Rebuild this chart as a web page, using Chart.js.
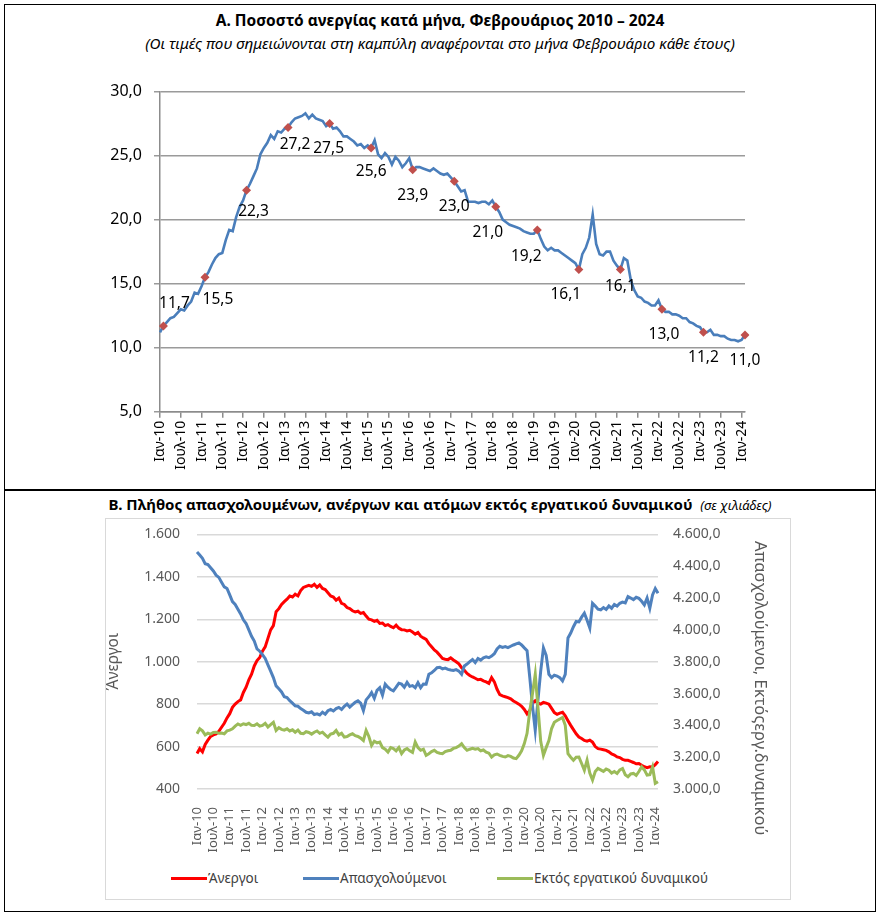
<!DOCTYPE html>
<html>
<head>
<meta charset="utf-8">
<script src="https://cdn.jsdelivr.net/npm/chart.js@4"></script>
<style>
  body { margin: 0; width: 880px; height: 922px; background: #fff; position: relative; font-family: "Noto Sans", sans-serif; }
  .abs { position: absolute; }
  .frame { left: 4px; top: 4px; width: 872px; height: 908px; border: 1.5px solid #000; box-sizing: border-box; }
  .divider { left: 4px; top: 489px; width: 872px; height: 1.5px; background: #000; }
  .titleA { top: 9px; left: 0; width: 880px; text-align: center; font-weight: bold; font-size: 15.5px; color: #000; }
  .subA { top: 33px; left: 0; width: 880px; text-align: center; font-style: italic; font-size: 15.2px; color: #000; }
  .titleB { top: 494px; left: 0; width: 880px; text-align: center; font-weight: bold; font-size: 15px; color: #000; }
  .titleB i { font-weight: normal; font-size: 13px; }
  .boxB { left: 105px; top: 518px; width: 686px; height: 382px; border: 1px solid #d9d9d9; box-sizing: border-box; }
  .rightTitle { left: 750px; top: 541px; writing-mode: vertical-rl; font-size: 16.5px; color: #595959; white-space: nowrap; }
  .leg { top: 869px; font-size: 13.5px; color: #404040; white-space: nowrap; }
  .leg span { display: inline-block; width: 36px; height: 3px; vertical-align: middle; margin-right: 1px; position: relative; top: -1px; }
</style>
</head>
<body>
<div class="abs frame"></div>
<div class="abs divider"></div>
<div class="abs titleA">Α. Ποσοστό ανεργίας κατά μήνα, Φεβρουάριος 2010 – 2024</div>
<div class="abs subA">(Οι τιμές που σημειώνονται στη καμπύλη αναφέρονται στο μήνα Φεβρουάριο κάθε έτους)</div>
<canvas id="chartA" class="abs" width="760" height="410" style="left:40px;top:70px;"></canvas>

<div class="abs titleB">Β. Πλήθος απασχολουμένων, ανέργων και ατόμων εκτός εργατικού δυναμικού &nbsp;<i>(σε χιλιάδες)</i></div>
<div class="abs boxB"></div>
<canvas id="chartB" class="abs" width="700" height="356" style="left:100px;top:509px;"></canvas>
<div class="abs rightTitle">Απασχολούμενοι, Εκτόςεργ.δυναμικού</div>
<div class="abs leg" style="left:171px;"><span style="background:#FF0000"></span>Άνεργοι</div>
<div class="abs leg" style="left:303px;"><span style="background:#4F81BD"></span>Απασχολούμενοι</div>
<div class="abs leg" style="left:497px;"><span style="background:#9BBB59"></span>Εκτός εργατικού δυναμικού</div>

<script>
// months Jan-10 .. Feb-24
const monthNames = ['Ιαν', 'Φεβ', 'Μαρ', 'Απρ', 'Μαΐ', 'Ιουν', 'Ιουλ', 'Αυγ', 'Σεπ', 'Οκτ', 'Νοε', 'Δεκ'];
const years = [10, 11, 12, 13, 14, 15, 16, 17, 18, 19, 20, 21, 22, 23, 24];

// unemployment rate %, monthly
const rate = [
  11.2, 11.7, 12.0, 12.3, 12.4, 12.7, 13.0, 12.9, 13.3, 13.6, 14.3, 14.2,
  14.8, 15.5, 15.9, 16.5, 17.0, 17.3, 17.4, 18.4, 19.2, 19.1, 20.2, 21.0,
  21.5, 22.3, 22.8, 23.4, 24.0, 25.1, 25.6, 26.0, 26.6, 26.3, 26.9, 26.8,
  27.1, 27.2, 27.6, 27.9, 28.0, 28.1, 28.3, 27.9, 28.2, 27.9, 27.8, 27.7,
  27.3, 27.5, 27.1, 27.2, 26.9, 26.5, 26.5, 26.3, 26.1, 25.8, 25.9, 25.6,
  25.8, 25.6, 26.2, 25.1, 24.8, 25.2, 24.9, 24.3, 24.9, 24.6, 24.1, 24.4,
  24.8, 23.9, 24.1, 24.1, 24.0, 23.9, 23.8, 24.0, 23.8, 23.6, 23.5, 23.6,
  23.3, 23.0, 22.6, 22.2, 22.3, 21.4, 21.4, 21.4, 21.3, 21.4, 21.4, 21.2,
  21.5, 21.0, 20.6, 20.0, 19.8, 19.6, 19.5, 19.4, 19.3, 19.1, 19.0, 18.9,
  18.9, 19.2, 18.5, 17.9, 17.6, 17.8, 17.6, 17.6, 17.4, 17.2, 17.0, 16.8,
  16.6, 16.1, 17.3, 17.8, 18.6, 20.4, 18.1, 17.3, 17.2, 17.5, 17.5, 16.8,
  16.4, 16.1, 17.0, 16.8, 15.3, 14.5, 14.0, 13.9, 13.6, 13.5, 13.3, 13.3,
  13.7, 13.0, 12.8, 12.8, 12.6, 12.6, 12.5, 12.3, 12.3, 12.0, 11.9, 11.7,
  11.6, 11.2, 11.2, 11.4, 11.0, 11.0, 10.9, 10.9, 10.7, 10.6, 10.6, 10.5,
  10.6, 11.0
];

// February values marked on the curve
const febRate = [11.7, 15.5, 22.3, 27.2, 27.5, 25.6, 23.9, 23.0, 21.0, 19.2, 16.1, 16.1, 13.0, 11.2, 11.0];

// thousands
const unemployed = [
  567, 590, 575, 610, 630, 648, 655, 660, 672, 691, 710, 735,
  755, 785, 800, 812, 820, 855, 880, 915, 941, 980, 1005, 1020,
  1050, 1070, 1110, 1150, 1170, 1236, 1250, 1270, 1283, 1295, 1310, 1305,
  1318, 1310, 1335, 1350, 1355, 1360, 1355, 1365, 1350, 1362, 1345, 1340,
  1325, 1310, 1305, 1290, 1300, 1275, 1270, 1255, 1250, 1240, 1235, 1238,
  1228, 1232, 1215, 1200, 1197, 1190, 1195, 1180, 1182, 1170, 1175, 1166,
  1160, 1172, 1158, 1151, 1150, 1145, 1148, 1140, 1130, 1138, 1120, 1112,
  1105, 1085, 1070, 1055, 1045, 1030, 1015, 1012, 1010, 1018, 1008, 1000,
  990, 972, 960, 945, 935, 928, 922, 915, 917, 910, 905, 898,
  925, 905, 870, 845, 839, 835, 831, 825, 815, 808, 800, 790,
  775, 754, 770, 805, 816, 805, 800, 808, 805, 800, 780, 760,
  752, 758, 762, 745, 722, 700, 680, 660, 645, 638, 629, 625,
  630, 621, 600, 590, 588, 585, 582, 575, 565, 560, 551, 548,
  540, 535, 535, 530, 525, 519, 520, 512, 505, 501, 505, 504,
  515, 530
];

const employed = [
  4489, 4470, 4450, 4416, 4410, 4390, 4370, 4344, 4330, 4300, 4270, 4260,
  4220, 4178, 4160, 4130, 4100, 4063, 4040, 4000, 3960, 3930, 3880, 3866,
  3845, 3820, 3780, 3741, 3700, 3648, 3630, 3610, 3580, 3575, 3555, 3540,
  3523, 3520, 3505, 3495, 3482, 3478, 3485, 3468, 3472, 3465, 3482, 3470,
  3492, 3500, 3490, 3505, 3513, 3500, 3520, 3534, 3515, 3530, 3545, 3554,
  3540, 3492, 3560, 3580, 3606, 3570, 3620, 3637, 3590, 3659, 3640, 3625,
  3617, 3640, 3665, 3659, 3640, 3670, 3645, 3650, 3637, 3668, 3637, 3660,
  3659, 3721, 3730, 3745, 3762, 3765, 3755, 3760, 3752, 3748, 3745, 3750,
  3741, 3721, 3773, 3785, 3800, 3814, 3795, 3820, 3810, 3824, 3830, 3825,
  3835, 3850, 3880, 3897, 3890, 3895, 3888, 3897, 3905, 3912, 3918, 3905,
  3887, 3870, 3700, 3520, 3368, 3560, 3741, 3887, 3840, 3721, 3700, 3715,
  3710, 3700, 3679, 3720, 3949, 3980, 4020, 4053, 4050, 4080, 4105, 4060,
  4011, 4167, 4150, 4130, 4126, 4140, 4128, 4150, 4136, 4160, 4150, 4167,
  4175, 4170, 4209, 4200, 4190, 4205, 4198, 4180, 4157, 4200, 4136, 4220,
  4260, 4230
];

const inactive = [
  3347, 3378, 3365, 3340, 3351, 3345, 3355, 3357, 3350, 3352, 3347, 3365,
  3370, 3378, 3395, 3409, 3400, 3410, 3405, 3413, 3400, 3399, 3410, 3395,
  3400, 3413, 3390, 3405, 3419, 3368, 3385, 3375, 3370, 3378, 3365, 3372,
  3357, 3370, 3350, 3347, 3360, 3355, 3345, 3357, 3365, 3350, 3357, 3340,
  3326, 3345, 3350, 3368, 3340, 3350, 3326, 3330, 3340, 3347, 3335, 3330,
  3320, 3305, 3368, 3330, 3274, 3300, 3290, 3295, 3260, 3250, 3232, 3260,
  3254, 3240, 3260, 3222, 3245, 3254, 3240, 3230, 3295, 3260, 3243, 3250,
  3212, 3222, 3235, 3243, 3230, 3225, 3222, 3235, 3240, 3243, 3255, 3260,
  3270, 3285, 3260, 3243, 3250, 3255, 3250, 3254, 3240, 3245, 3232, 3225,
  3201, 3215, 3220, 3212, 3205, 3201, 3210, 3205, 3195, 3191, 3212, 3240,
  3285, 3350, 3492, 3600, 3721, 3513, 3300, 3212, 3260, 3305, 3380, 3419,
  3430, 3440, 3450, 3400, 3222, 3200, 3181, 3200, 3201, 3160, 3118, 3181,
  3100, 3056, 3110, 3129, 3120, 3110, 3125, 3118, 3100, 3110, 3098, 3120,
  3129, 3090, 3077, 3095, 3098, 3085, 3110, 3139, 3120, 3087, 3090, 3139,
  3036, 3046
];

const categories = [];
years.forEach(y => monthNames.forEach(m => categories.push(m + '-' + y)));
categories.length = rate.length;

// Feb markers: index 1, 13, 25, ...
const febMarks = categories.map((c, i) => (i % 12 === 1 ? febRate[(i - 1) / 12] : null));

// label offsets for the February values (dx, dy from the marker)
const febLabelOffsets = [[11, -22], [13, 22], [7, 21], [7, 17], [-1, 25], [0, 24], [0, 26], [0, 25],
  [-8, 26], [-11, 27], [-13, 25], [0, 17], [2, 25], [0, 25], [0, 26]];

function fmtDec(v) { return v.toFixed(1).replace('.', ','); }
function fmtThousands(v, dec) {
  let s = dec ? v.toFixed(dec) : String(Math.round(v));
  let parts = s.split('.');
  parts[0] = parts[0].replace(/\B(?=(\d{3})+(?!\d))/g, '.');
  return parts.join(',');
}
function sixMonthLabel(val, i) {
  return i % 6 === 0 ? categories[i] : '';
}

Chart.defaults.font.family = '"Noto Sans", sans-serif';

const febLabels = {
  id: 'febLabels',
  afterDatasetsDraw(chart) {
    const ds = chart.data.datasets[1];
    const meta = chart.getDatasetMeta(1);
    const ctx = chart.ctx;
    ctx.save();
    ctx.font = '15.5px "Noto Sans"';
    ctx.fillStyle = '#000';
    ctx.textAlign = 'center';
    ctx.textBaseline = 'middle';
    let k = 0;
    meta.data.forEach((pt, i) => {
      const v = ds.data[i];
      if (v == null) return;
      const off = febLabelOffsets[k++];
      ctx.fillText(fmtDec(v), pt.x + off[0], pt.y + off[1]);
    });
    ctx.restore();
  }
};

new Chart(document.getElementById('chartA'), {
  type: 'line',
  data: {
    labels: categories,
    datasets: [{
      data: rate,
      borderColor: '#4A7EBB',
      borderWidth: 2.6,
      pointRadius: 0,
      tension: 0,
      order: 1
    },
    {
      data: febMarks,
      showLine: false,
      pointStyle: 'rectRot',
      pointRadius: 4.5,
      backgroundColor: '#C0504D',
      borderColor: '#C0504D',
      borderWidth: 0,
      order: 0
    }]
  },
  options: {
    responsive: false,
    animation: false,
    layout: { padding: { top: 0, right: 55, left: 0, bottom: 0 } },
    plugins: { legend: { display: false }, tooltip: { enabled: false } },
    scales: {
      x: {
        afterFit(scale) { scale.height = 68.3; },
        grid: {
          drawOnChartArea: false,
          tickLength: 6,
          color: ctx => (ctx.index % 6 === 0 ? '#8c8c8c' : 'rgba(0,0,0,0)'),
          lineWidth: 1.5
        },
        border: { color: '#8c8c8c', width: 1.5 },
        ticks: {
          autoSkip: false,
          maxRotation: 90,
          minRotation: 90,
          padding: 3,
          color: '#000',
          font: { size: 14 },
          callback: sixMonthLabel
        }
      },
      y: {
        min: 5,
        max: 30,
        afterFit(scale) { scale.width = 120; },
        grid: { color: '#9a9a9a', lineWidth: 1.5, tickLength: 6 },
        border: { color: '#8c8c8c', width: 1.5 },
        ticks: {
          stepSize: 5,
          padding: 12,
          color: '#000',
          font: { size: 16 },
          callback: v => fmtDec(v)
        }
      }
    }
  },
  plugins: [febLabels]
});

new Chart(document.getElementById('chartB'), {
  type: 'line',
  data: {
    labels: categories,
    datasets: [{
      label: 'Άνεργοι',
      data: unemployed,
      yAxisID: 'y',
      borderColor: '#FF0000',
      borderWidth: 3,
      pointRadius: 0,
      tension: 0,
      order: 3
    },
    {
      label: 'Απασχολούμενοι',
      data: employed,
      yAxisID: 'y2',
      borderColor: '#4F81BD',
      borderWidth: 3,
      pointRadius: 0,
      tension: 0,
      order: 2
    },
    {
      label: 'Εκτός εργατικού δυναμικού',
      data: inactive,
      yAxisID: 'y2',
      borderColor: '#9BBB59',
      borderWidth: 3,
      pointRadius: 0,
      tension: 0,
      order: 1
    }]
  },
  options: {
    responsive: false,
    animation: false,
    layout: { padding: { top: 3.5, right: 0, left: 0, bottom: 0 } },
    plugins: { legend: { display: false }, tooltip: { enabled: false } },
    scales: {
      x: {
        afterFit(scale) { scale.height = 76; },
        grid: { display: false },
        border: { display: false },
        ticks: {
          autoSkip: false,
          maxRotation: 90,
          minRotation: 90,
          padding: 10,
          color: '#595959',
          font: { size: 13 },
          callback: sixMonthLabel
        }
      },
      y: {
        position: 'left',
        min: 400,
        max: 1600,
        afterFit(scale) { scale.width = 97; },
        grid: { color: '#d9d9d9', lineWidth: 1.5, drawTicks: false },
        border: { display: false },
        title: { display: true, text: 'Άνεργοι', color: '#595959', font: { size: 15.5 }, padding: { top: 4, bottom: 0 } },
        ticks: {
          stepSize: 200,
          padding: 17,
          color: '#595959',
          font: { size: 14 },
          callback: v => fmtThousands(v, 0)
        }
      },
      y2: {
        position: 'right',
        min: 3000,
        max: 4600,
        afterFit(scale) { scale.width = 142; },
        grid: { drawOnChartArea: false, drawTicks: false },
        border: { display: false },
        ticks: {
          stepSize: 200,
          padding: 15,
          color: '#595959',
          font: { size: 14 },
          callback: v => fmtThousands(v, 1)
        }
      }
    }
  }
});
</script>
</body>
</html>
